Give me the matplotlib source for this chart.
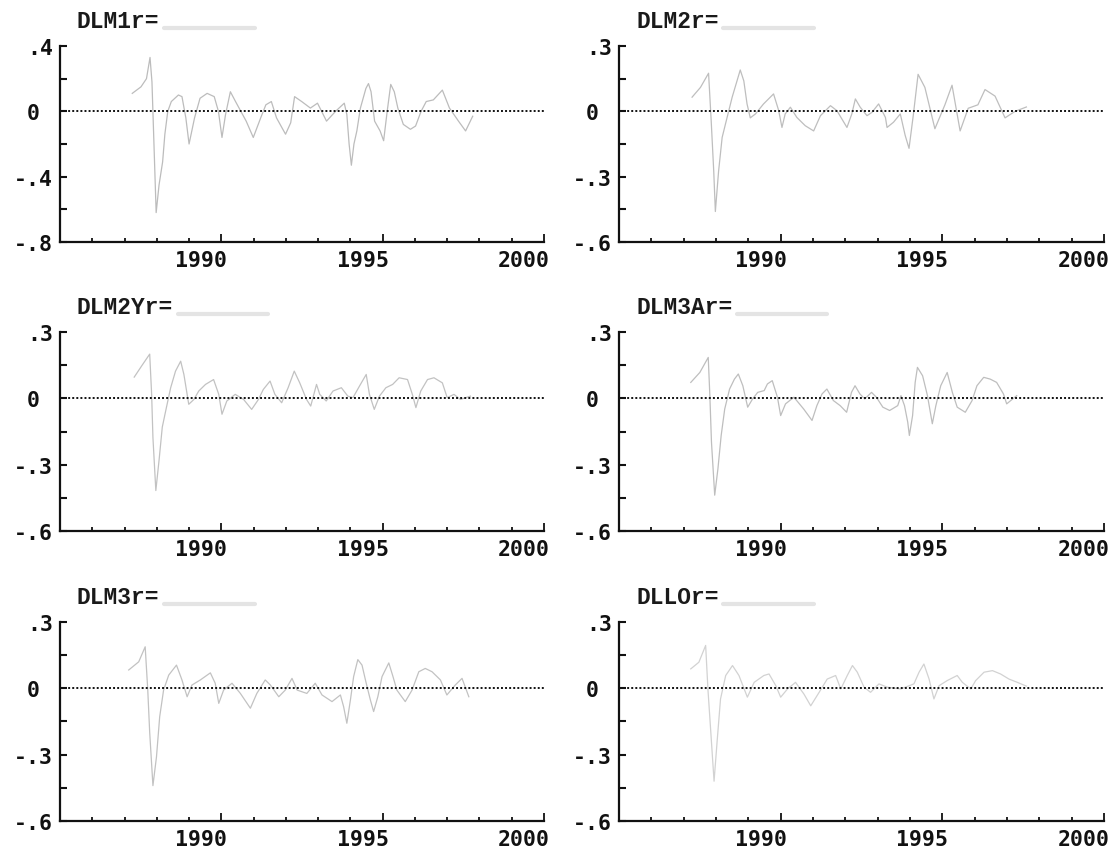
import matplotlib.pyplot as plt
from matplotlib.transforms import ScaledTranslation

# residual series (time in years, value)
dlm1r_t = [1987.24, 1987.51, 1987.68, 1987.79, 1987.85, 1987.92, 1987.98, 1988.07, 1988.18, 1988.25,
           1988.34, 1988.45, 1988.67, 1988.78, 1988.90, 1989.00, 1989.17, 1989.34, 1989.56, 1989.78,
           1989.91, 1990.02, 1990.13, 1990.28, 1990.44, 1990.77, 1990.99, 1991.22, 1991.38, 1991.55,
           1991.71, 1991.99, 1992.15, 1992.27, 1992.49, 1992.76, 1992.98, 1993.26, 1993.54, 1993.81,
           1993.89, 1993.96, 1994.03, 1994.11, 1994.20, 1994.31, 1994.48, 1994.56, 1994.64, 1994.75,
           1994.92, 1995.03, 1995.14, 1995.25, 1995.36, 1995.47, 1995.64, 1995.86, 1996.02, 1996.19,
           1996.35, 1996.57, 1996.85, 1997.07, 1997.35, 1997.57, 1997.79]
dlm1r_v = [0.11, 0.15, 0.20, 0.33, 0.18, -0.25, -0.62, -0.45, -0.31, -0.14,
           0.00, 0.06, 0.10, 0.09, -0.04, -0.20, -0.04, 0.08, 0.11, 0.09,
           0.00, -0.16, -0.02, 0.12, 0.06, -0.06, -0.16, -0.04, 0.04, 0.06,
           -0.04, -0.14, -0.07, 0.09, 0.06, 0.02, 0.05, -0.06, 0.00, 0.05,
           -0.02, -0.20, -0.33, -0.20, -0.12, 0.02, 0.14, 0.17, 0.12, -0.06,
           -0.12, -0.18, 0.00, 0.165, 0.12, 0.02, -0.08, -0.11, -0.09, 0.00,
           0.06, 0.07, 0.13, 0.02, -0.06, -0.12, -0.03]

dlm2r_t = [1987.26, 1987.52, 1987.77, 1987.85, 1987.93, 1987.98, 1988.08, 1988.19, 1988.34, 1988.50,
           1988.65, 1988.75, 1988.86, 1988.96, 1989.06, 1989.22, 1989.47, 1989.78, 1989.94, 1990.04,
           1990.14, 1990.30, 1990.50, 1990.76, 1991.02, 1991.23, 1991.54, 1991.74, 1992.05, 1992.20,
           1992.31, 1992.46, 1992.67, 1992.82, 1993.03, 1993.24, 1993.29, 1993.49, 1993.70, 1993.85,
           1993.97, 1994.10, 1994.25, 1994.46, 1994.77, 1995.08, 1995.30, 1995.55, 1995.80, 1996.10,
           1996.32, 1996.63, 1996.94, 1997.25, 1997.60]
dlm2r_v = [0.065, 0.11, 0.175, -0.04, -0.275, -0.46, -0.275, -0.12, -0.03, 0.065,
           0.14, 0.19, 0.14, 0.034, -0.03, -0.012, 0.034, 0.08, 0.003, -0.074,
           -0.012, 0.019, -0.028, -0.066, -0.09, -0.02, 0.026, 0.003, -0.074, -0.012,
           0.057, 0.019, -0.02, -0.005, 0.034, -0.028, -0.074, -0.05, -0.012, -0.11,
           -0.17, -0.02, 0.17, 0.11, -0.08, 0.03, 0.12, -0.09, 0.014, 0.03,
           0.10, 0.07, -0.03, 0.00, 0.02]

dlm2yr_t = [1987.30, 1987.56, 1987.78, 1987.84, 1987.88, 1987.97, 1988.07, 1988.17, 1988.30, 1988.43,
            1988.58, 1988.74, 1988.84, 1988.99, 1989.15, 1989.30, 1989.51, 1989.76, 1989.92, 1990.02,
            1990.17, 1990.43, 1990.69, 1990.94, 1991.15, 1991.30, 1991.51, 1991.66, 1991.87, 1992.07,
            1992.26, 1992.43, 1992.64, 1992.77, 1992.95, 1993.05, 1993.25, 1993.46, 1993.72, 1993.92,
            1994.08, 1994.28, 1994.49, 1994.59, 1994.74, 1994.90, 1995.10, 1995.31, 1995.51, 1995.77,
            1995.92, 1996.03, 1996.18, 1996.39, 1996.59, 1996.85, 1997.00, 1997.21, 1997.41, 1997.72]
dlm2yr_v = [0.096, 0.153, 0.20, 0.018, -0.177, -0.417, -0.28, -0.13, -0.04, 0.048,
            0.123, 0.168, 0.108, -0.027, -0.005, 0.033, 0.063, 0.085, 0.018, -0.072,
            -0.012, 0.018, -0.005, -0.05, -0.005, 0.04, 0.078, 0.018, -0.02, 0.048,
            0.123, 0.07, -0.005, -0.035, 0.063, 0.018, -0.012, 0.033, 0.048, 0.01,
            0.003, 0.055, 0.108, 0.018, -0.05, 0.01, 0.048, 0.063, 0.093, 0.085,
            0.018, -0.042, 0.033, 0.085, 0.093, 0.07, 0.003, 0.018, -0.005, 0.01]

dlm3ar_t = [1987.22, 1987.50, 1987.76, 1987.81, 1987.86, 1987.96, 1988.06, 1988.16, 1988.27, 1988.42,
            1988.57, 1988.69, 1988.83, 1988.98, 1989.13, 1989.29, 1989.49, 1989.59, 1989.74, 1989.90,
            1990.00, 1990.15, 1990.41, 1990.71, 1990.97, 1991.12, 1991.28, 1991.43, 1991.63, 1991.84,
            1992.04, 1992.19, 1992.30, 1992.45, 1992.60, 1992.81, 1992.96, 1993.16, 1993.37, 1993.62,
            1993.72, 1993.83, 1993.93, 1993.98, 1994.08, 1994.16, 1994.23, 1994.39, 1994.54, 1994.69,
            1994.80, 1994.95, 1995.15, 1995.31, 1995.46, 1995.71, 1995.92, 1996.07, 1996.28, 1996.48,
            1996.68, 1996.89, 1996.99, 1997.30]
dlm3ar_v = [0.072, 0.117, 0.185, 0.012, -0.198, -0.438, -0.318, -0.168, -0.048, 0.042,
            0.087, 0.11, 0.057, -0.04, -0.003, 0.027, 0.035, 0.065, 0.08, 0.005,
            -0.078, -0.025, 0.005, -0.048, -0.10, -0.033, 0.02, 0.042, -0.01, -0.033,
            -0.063, 0.027, 0.057, 0.02, -0.003, 0.027, 0.005, -0.04, -0.055, -0.033,
            0.012, -0.033, -0.108, -0.168, -0.078, 0.072, 0.14, 0.102, 0.012, -0.115,
            -0.033, 0.057, 0.117, 0.027, -0.04, -0.063, -0.01, 0.057, 0.095, 0.087,
            0.072, 0.02, -0.025, 0.012]

dlm3r_t = [1987.13, 1987.44, 1987.64, 1987.72, 1987.78, 1987.88, 1987.99, 1988.09, 1988.21, 1988.37,
           1988.61, 1988.78, 1988.94, 1989.09, 1989.35, 1989.66, 1989.81, 1989.92, 1990.07, 1990.33,
           1990.59, 1990.90, 1991.10, 1991.36, 1991.52, 1991.78, 1991.98, 1992.19, 1992.35, 1992.65,
           1992.91, 1993.12, 1993.43, 1993.69, 1993.79, 1993.89, 1994.00, 1994.10, 1994.23, 1994.36,
           1994.49, 1994.62, 1994.72, 1994.85, 1994.98, 1995.19, 1995.32, 1995.44, 1995.70, 1995.91,
           1996.12, 1996.32, 1996.53, 1996.79, 1996.99, 1997.25, 1997.46, 1997.67]
dlm3r_v = [0.083, 0.12, 0.188, -0.008, -0.20, -0.44, -0.31, -0.128, -0.008, 0.06,
           0.105, 0.038, -0.038, 0.015, 0.038, 0.07, 0.023, -0.068, -0.008, 0.023,
           -0.023, -0.09, -0.023, 0.038, 0.015, -0.038, -0.008, 0.045, -0.008, -0.023,
           0.023, -0.03, -0.06, -0.03, -0.083, -0.158, -0.053, 0.053, 0.13, 0.105,
           0.023, -0.053, -0.105, -0.038, 0.053, 0.115, 0.053, -0.008, -0.06, -0.008,
           0.075, 0.09, 0.075, 0.038, -0.03, 0.015, 0.045, -0.038]

dllor_t = [1987.22, 1987.47, 1987.68, 1987.75, 1987.84, 1987.94, 1988.04, 1988.14, 1988.30, 1988.51,
           1988.71, 1988.97, 1989.18, 1989.48, 1989.64, 1989.85, 1990.00, 1990.21, 1990.46, 1990.72,
           1990.93, 1991.19, 1991.44, 1991.70, 1991.86, 1992.06, 1992.22, 1992.37, 1992.58, 1992.78,
           1993.04, 1993.30, 1993.71, 1994.12, 1994.28, 1994.43, 1994.59, 1994.74, 1994.90, 1995.15,
           1995.46, 1995.62, 1995.88, 1996.03, 1996.29, 1996.55, 1996.80, 1997.06, 1997.32, 1997.60]
dllor_v = [0.088, 0.118, 0.194, -0.003, -0.20, -0.42, -0.23, -0.048, 0.058, 0.103,
           0.058, -0.04, 0.027, 0.058, 0.065, 0.012, -0.04, -0.003, 0.027, -0.026,
           -0.079, -0.018, 0.042, 0.058, -0.003, 0.058, 0.103, 0.073, 0.005, -0.018,
           0.02, 0.005, -0.003, 0.02, 0.073, 0.11, 0.042, -0.048, 0.012, 0.035,
           0.058, 0.027, -0.003, 0.035, 0.073, 0.08, 0.065, 0.042, 0.027, 0.01]

titles = ['DLM1r=', 'DLM2r=', 'DLM2Yr=', 'DLM3Ar=', 'DLM3r=', 'DLLOr=']
series = [(dlm1r_t, dlm1r_v), (dlm2r_t, dlm2r_v), (dlm2yr_t, dlm2yr_v),
          (dlm3ar_t, dlm3ar_v), (dlm3r_t, dlm3r_v), (dllor_t, dllor_v)]

year_major = [1990, 1995, 2000]
year_minor = [1986, 1987, 1988, 1989, 1991, 1992, 1993, 1994, 1996, 1997, 1998, 1999]
year_labels = ['1990', '1995', '2000']

ylim_big = (-0.8, 0.4)
yticks_big = [-0.8, -0.6, -0.4, -0.2, 0.0, 0.2, 0.4]
ylabels_big = ['-.8', '', '-.4', '', '0 ', '', '.4']
ylim_small = (-0.6, 0.3)
yticks_small = [-0.6, -0.45, -0.3, -0.15, 0.0, 0.15, 0.3]
ylabels_small = ['-.6', '', '-.3', '', '0 ', '', '.3']

W, H = 1119, 853
cols = [(60, 544), (619, 1104)]
rows = [(47, 243), (333, 532), (623, 822)]

fig = plt.figure(figsize=(W / 100, H / 100), dpi=100)
fig.patch.set_facecolor('white')

tick_font = dict(family='DejaVu Sans Mono', weight='bold', size=15.5)
line_color = ['#bcbcbc', '#bebebe', '#c2c2c2', '#bebebe', '#c2c2c2', '#d2d2d2']

for i, (title, (t, v)) in enumerate(zip(titles, series)):
    x0, x1 = cols[i % 2]
    y0, y1 = rows[i // 2]
    ax = fig.add_axes([x0 / W, 1 - y1 / H, (x1 - x0) / W, (y1 - y0) / H])
    ax.set_facecolor('none')

    ax.plot(t, v, color=line_color[i], lw=0.9, zorder=2)
    ax.axhline(0, color='#111111', lw=1.4, ls=(0, (1, 1.1)), zorder=3)

    ax.set_xlim(1985, 2000)
    if i == 0:
        ax.set_ylim(*ylim_big)
        ax.set_yticks(yticks_big)
        ax.set_yticklabels(ylabels_big)
    else:
        ax.set_ylim(*ylim_small)
        ax.set_yticks(yticks_small)
        ax.set_yticklabels(ylabels_small)

    ax.set_xticks(year_major)
    ax.set_xticklabels(year_labels)
    ax.set_xticks(year_minor, minor=True)

    for s in ['top', 'right']:
        ax.spines[s].set_visible(False)
    for s in ['left', 'bottom']:
        ax.spines[s].set_linewidth(1.6)
        ax.spines[s].set_color('#111111')

    ax.tick_params(axis='x', which='major', direction='in', length=5.5, width=1.3,
                   pad=6, colors='#111111')
    ax.tick_params(axis='x', which='minor', direction='in', length=2.8, width=1.3,
                   colors='#111111')
    ax.tick_params(axis='y', which='major', direction='in', length=5, width=1.5,
                   pad=5, colors='#111111')

    for lab in ax.get_xticklabels():
        lab.set(**tick_font)
        lab.set_horizontalalignment('right')
        lab.set_transform(lab.get_transform() + ScaledTranslation(6 / 100, 0, fig.dpi_scale_trans))
    for lab in ax.get_yticklabels():
        lab.set(**tick_font)

    # panel title and the faint smudge after it
    tx = (x0 + 17) / W
    ty = 1 - (y0 - 25) / H
    txt = fig.text(tx, ty, title, family='Liberation Mono', weight='bold', size=16.5,
                   color='#1a1a1a', ha='left', va='center')
    fig.canvas.draw()
    bb = txt.get_window_extent()
    fig.add_artist(plt.Line2D([bb.x1 / W + 0.004, bb.x1 / W + 0.085],
                              [ty - 0.008, ty - 0.008], color='#e4e4e4', lw=3,
                              solid_capstyle='round'))

fig.savefig('out.png', dpi=100, facecolor='white')
